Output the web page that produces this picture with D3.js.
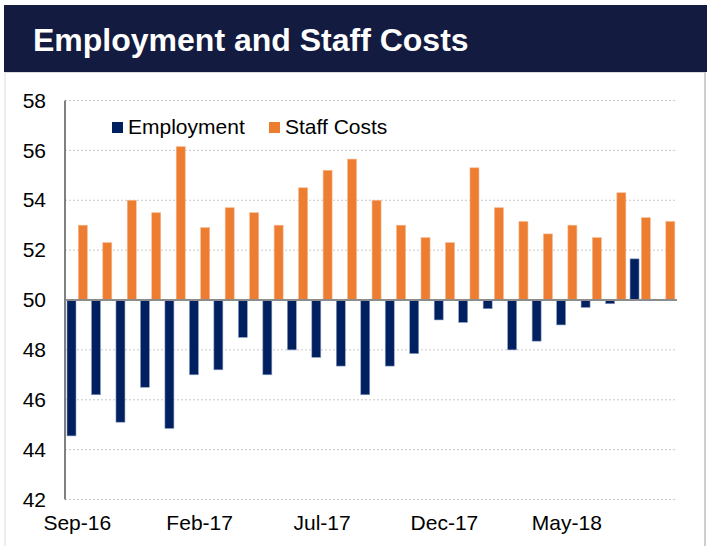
<!DOCTYPE html>
<html>
<head>
<meta charset="utf-8">
<script src="https://cdn.jsdelivr.net/npm/d3@7"></script>
<style>
  body { margin: 0; background: #fff; }
  text { font-family: "Liberation Sans", Arial, sans-serif; }
</style>
</head>
<body>
<svg id="myGraph" width="707" height="546"></svg>
<script>
// 데이터
var months = ["Sep-16","Oct-16","Nov-16","Dec-16","Jan-17","Feb-17","Mar-17","Apr-17","May-17","Jun-17","Jul-17","Aug-17",
  "Sep-17","Oct-17","Nov-17","Dec-17","Jan-18","Feb-18","Mar-18","Apr-18","May-18","Jun-18","Jul-18","Aug-18","Sep-18"];
var employment = [44.55, 46.2, 45.1, 46.5, 44.85, 47.0, 47.2, 48.5, 47.0, 48.0, 47.7, 47.35,
  46.2, 47.35, 47.85, 49.2, 49.1, 49.65, 48.0, 48.35, 49.0, 49.7, 49.85, 51.65, null];
var staffCosts = [53.0, 52.3, 54.0, 53.5, 56.15, 52.9, 53.7, 53.5, 53.0, 54.5, 55.2, 55.65,
  54.0, 53.0, 52.5, 52.3, 55.3, 53.7, 53.15, 52.65, 53.0, 52.5, 54.3, 53.3, 53.15];
var yTicks = [42, 44, 46, 48, 50, 52, 54, 56, 58];
var xLabels = ["Sep-16", "Feb-17", "Jul-17", "Dec-17", "May-18"];

var navy = "#002060";
var orange = "#ED7D31";

var svg = d3.select("#myGraph");

// 패널 테두리
svg.append("rect")
  .attr("x", 5).attr("y", 72.5)
  .attr("width", 699.5).attr("height", 480)
  .attr("fill", "none")
  .attr("stroke", "#dcdcdc").attr("stroke-width", 1);
svg.append("line")
  .attr("x1", 705).attr("x2", 705).attr("y1", 72).attr("y2", 546)
  .attr("stroke", "#cfcfcf").attr("stroke-width", 2);

// 제목 막대
svg.append("rect")
  .attr("x", 4).attr("y", 5)
  .attr("width", 703).attr("height", 67)
  .attr("fill", "#131B40");
svg.append("text")
  .attr("x", 33).attr("y", 51)
  .attr("fill", "#fff")
  .style("font-size", "32px")
  .style("font-weight", "bold")
  .text("Employment and Staff Costs");

// 스케일
var left = 65, right = 677;
var x = d3.scaleBand().domain(months).range([left, right]).paddingInner(0).paddingOuter(0);
var y = d3.scaleLinear().domain([42, 58]).range([499.5, 100.5]);
var barW = 9;

// 격자선
svg.append("g")
  .selectAll("line")
  .data(yTicks.filter(function(d){ return d != 50; }))
  .enter()
  .append("line")
  .attr("x1", left).attr("x2", right)
  .attr("y1", function(d){ return y(d); })
  .attr("y2", function(d){ return y(d); })
  .attr("stroke", "#c8c8c8")
  .attr("stroke-width", 1)
  .attr("stroke-dasharray", "2,2");

// Y축 눈금 라벨
var yAxis = d3.axisLeft(y).tickValues(yTicks).tickSize(0).tickPadding(19);
var gy = svg.append("g").attr("transform", "translate(" + left + ",0)").call(yAxis);
gy.select(".domain").remove();
gy.selectAll("text")
  .style("font-size", "21px")
  .style("font-family", "Liberation Sans, Arial, sans-serif")
  .attr("fill", "#000");

// Y축 선
svg.append("line")
  .attr("x1", left).attr("x2", left)
  .attr("y1", y(58)).attr("y2", y(42))
  .attr("stroke", "#808080").attr("stroke-width", 2);

// 고용 막대
svg.append("g")
  .selectAll("rect")
  .data(employment)
  .enter()
  .filter(function(d){ return d != null; })
  .append("rect")
  .attr("x", function(d, i){ return x(months[i]) + 2; })
  .attr("y", function(d){ return y(Math.max(d, 50)); })
  .attr("width", barW)
  .attr("height", function(d){ return Math.abs(y(d) - y(50)); })
  .attr("fill", navy)
  .attr("stroke", "#8fa0c4").attr("stroke-width", 0.6);

// 인건비 막대
svg.append("g")
  .selectAll("rect")
  .data(staffCosts)
  .enter()
  .append("rect")
  .attr("x", function(d, i){ return x(months[i]) + 13.3; })
  .attr("y", function(d){ return y(d); })
  .attr("width", barW)
  .attr("height", function(d){ return y(50) - y(d); })
  .attr("fill", orange)
  .attr("stroke", "#f6b88e").attr("stroke-width", 0.6);

// 기준선 50
svg.append("line")
  .attr("x1", left).attr("x2", right)
  .attr("y1", y(50)).attr("y2", y(50))
  .attr("stroke", "#8c8c8c").attr("stroke-width", 2);

// X축 라벨
var xAxis = d3.axisBottom(x).tickValues(xLabels).tickSize(0).tickPadding(0);
var gx = svg.append("g").attr("transform", "translate(0," + 515 + ")").call(xAxis);
gx.select(".domain").remove();
gx.selectAll("text")
  .style("font-size", "21px")
  .style("font-family", "Liberation Sans, Arial, sans-serif")
  .attr("fill", "#000")
  .attr("dy", "0.72em");

// 범례
var legend = [{name: "Employment", color: navy, x: 112}, {name: "Staff Costs", color: orange, x: 269}];
var lg = svg.append("g").selectAll("g").data(legend).enter().append("g");
lg.append("rect")
  .attr("x", function(d){ return d.x; }).attr("y", 122)
  .attr("width", 11).attr("height", 11)
  .attr("fill", function(d){ return d.color; });
lg.append("text")
  .attr("x", function(d){ return d.x + 16; }).attr("y", 133.5)
  .style("font-size", "21px")
  .attr("fill", "#000")
  .text(function(d){ return d.name; });
</script>
</body>
</html>
